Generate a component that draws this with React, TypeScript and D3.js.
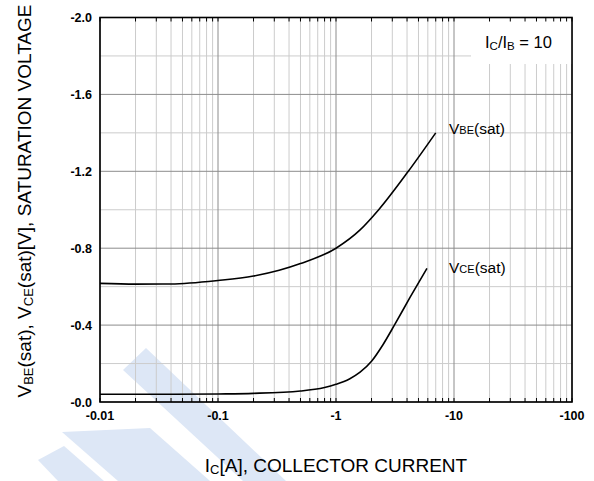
import React from 'react';
import * as d3 from 'd3';

// I_C magnitude [A] vs saturation voltage magnitude [V] (values are negative on the chart)
const vbeCurrent = [0.01, 0.02, 0.04, 0.1, 0.2, 0.33, 0.5, 1, 1.6, 2.3, 4.1, 7];
const vbeVoltage = [0.617, 0.613, 0.614, 0.632, 0.655, 0.685, 0.72, 0.8, 0.895, 1.0, 1.2, 1.4];

const vceCurrent = [0.01, 0.03, 0.1, 0.2, 0.5, 0.8, 1, 1.3, 1.6, 2, 2.5, 3.16, 4.25, 5.9];
const vceVoltage = [0.04, 0.04, 0.042, 0.045, 0.057, 0.075, 0.092, 0.12, 0.155, 0.212, 0.298, 0.405, 0.545, 0.695];

const xTickValues = [0.01, 0.1, 1, 10, 100];
const xTickLabels = ['-0.01', '-0.1', '-1', '-10', '-100'];
const yTickValues = [0, 0.4, 0.8, 1.2, 1.6, 2.0];
const yTickLabels = ['-0.0', '-0.4', '-0.8', '-1.2', '-1.6', '-2.0'];

const W = 594;
const H = 481;
const left = 100;
const right = 572;
const top = 17.5;
const bottom = 402;

const font = '"Liberation Sans", Arial, sans-serif';

export default function App() {
  const x = d3.scaleLog().domain([0.01, 100]).range([left, right]);
  const y = d3.scaleLinear().domain([0, 2]).range([bottom, top]);

  const minorX: number[] = [];
  [0.01, 0.1, 1, 10].forEach(dec => {
    for (let k = 2; k <= 9; k++) minorX.push(dec * k);
  });
  const minorY = [0.2, 0.6, 1.0, 1.4, 1.8];

  const line = d3.line<[number, number]>()
    .x(d => x(d[0]))
    .y(d => y(d[1]))
    .curve(d3.curveMonotoneX);

  const vbe = vbeCurrent.map((c, i) => [c, vbeVoltage[i]] as [number, number]);
  const vce = vceCurrent.map((c, i) => [c, vceVoltage[i]] as [number, number]);

  const light = '#cccccc';
  const dark = '#8c8c8c';
  const wm = '#dde7f6';

  return (
    <svg width={W} height={H} style={{ position: 'absolute', left: 0, top: 0, background: '#fff' }}>
      <rect x={0} y={0} width={W} height={H} fill="#fff" />
      {/* watermark */}
      <g fill={wm}>
        <polygon points="123,370 146,348 286,481 243,481" />
        <polygon points="62,432 150,428 210,481 118,481" />
        <polygon points="38,460 64,446 104,481 58,481" />
      </g>
      {/* grid */}
      <g>
        {minorX.map(v => (
          <line key={'mx' + v} x1={x(v)} x2={x(v)} y1={top} y2={bottom} stroke={light} strokeWidth={1} />
        ))}
        {minorY.map(v => (
          <line key={'my' + v} x1={left} x2={right} y1={y(v)} y2={y(v)} stroke={light} strokeWidth={1} />
        ))}
        {xTickValues.map(v => (
          <line key={'Mx' + v} x1={x(v)} x2={x(v)} y1={top} y2={bottom} stroke={dark} strokeWidth={1} />
        ))}
        {yTickValues.map(v => (
          <line key={'My' + v} x1={left} x2={right} y1={y(v)} y2={y(v)} stroke={dark} strokeWidth={1} />
        ))}
      </g>
      {/* legend box */}
      <rect x={471} y={top} width={right - 471} height={64 - top} fill="#fff" />
      <text x={485} y={48} fontFamily={font} fontSize={16.5} fill="#000">
        I<tspan fontSize={11.5} dy={2}>C</tspan><tspan dy={-2}>/I</tspan><tspan fontSize={11.5} dy={2}>B</tspan><tspan dy={-2}> = 10</tspan>
      </text>
      {/* curves */}
      <path d={line(vbe) || ''} fill="none" stroke="#000" strokeWidth={1.6} />
      <path d={line(vce) || ''} fill="none" stroke="#000" strokeWidth={1.6} />
      <text x={449} y={134} fontFamily={font} fontSize={15.5} fill="#000">
        V<tspan fontSize={11}>BE</tspan>(sat)
      </text>
      <text x={449} y={273} fontFamily={font} fontSize={15.5} fill="#000">
        V<tspan fontSize={11}>CE</tspan>(sat)
      </text>
      {/* border */}
      <rect x={left} y={top} width={right - left} height={bottom - top} fill="none" stroke="#000" strokeWidth={1.6} />
      {/* inner ticks top/bottom */}
      {minorX.concat(xTickValues).map(v => (
        <g key={'t' + v}>
          <line x1={x(v)} x2={x(v)} y1={bottom} y2={bottom - 4} stroke="#000" strokeWidth={1} />
          <line x1={x(v)} x2={x(v)} y1={top} y2={top + 4} stroke="#000" strokeWidth={1} />
        </g>
      ))}
      {/* tick labels */}
      {yTickValues.map((v, i) => (
        <text key={'yl' + v} x={92} y={y(v)} dy="0.36em" textAnchor="end" fontFamily={font} fontSize={12.5} fontWeight="bold" fill="#000">
          {yTickLabels[i]}
        </text>
      ))}
      {xTickValues.map((v, i) => (
        <text key={'xl' + v} x={x(v)} y={420} textAnchor="middle" fontFamily={font} fontSize={12.5} fontWeight="bold" fill="#000">
          {xTickLabels[i]}
        </text>
      ))}
      {/* axis titles */}
      <text x={336} y={472} textAnchor="middle" fontFamily={font} fontSize={19} fill="#000">
        I<tspan fontSize={13} dy={2}>C</tspan><tspan dy={-2}>[A], COLLECTOR CURRENT</tspan>
      </text>
      <text transform={`translate(31,201) rotate(-90)`} textAnchor="middle" fontFamily={font} fontSize={19} fill="#000">
        V<tspan fontSize={13} dy={2}>BE</tspan><tspan dy={-2}>(sat), V</tspan><tspan fontSize={13} dy={2}>CE</tspan><tspan dy={-2}>(sat)[V], SATURATION VOLTAGE</tspan>
      </text>
    </svg>
  );
}
